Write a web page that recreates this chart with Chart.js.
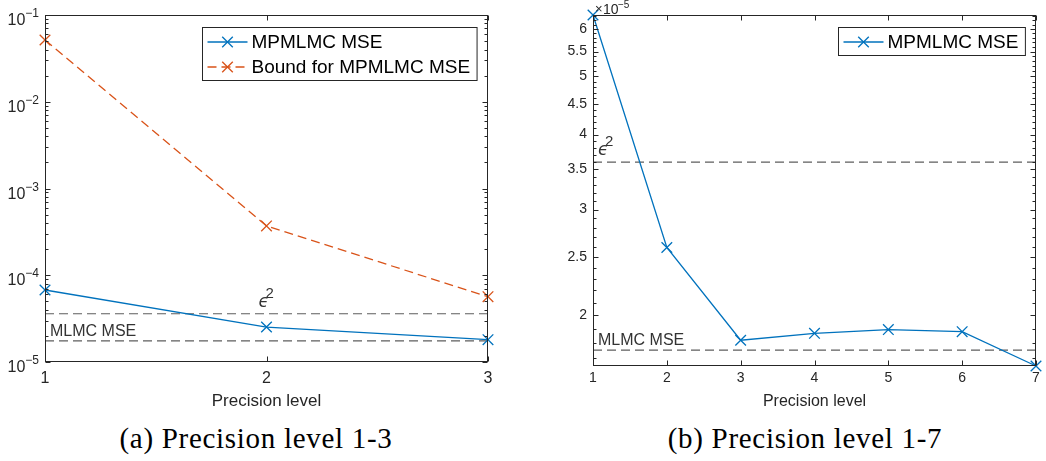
<!DOCTYPE html>
<html>
<head>
<meta charset="utf-8">
<script src="https://cdn.jsdelivr.net/npm/chart.js@4"></script>
<style>
  body { margin: 0; background: #fff; }
  #wrap { position: relative; width: 1046px; height: 461px; overflow: hidden; background: #fff; }
  canvas { position: absolute; top: 0; }
  .cap { position: absolute; top: 422px; line-height: 32px; font-family: "Liberation Serif", "Times New Roman", serif;
         font-size: 29px; letter-spacing: 0.7px; color: #000; white-space: nowrap; transform: translateX(-50%); }
</style>
</head>
<body>
<div id="wrap">
  <canvas id="chartA" width="520" height="416" style="left:0"></canvas>
  <canvas id="chartB" width="516" height="415" style="left:530px"></canvas>
  <div class="cap" style="left:256px">(a) Precision level 1-3</div>
  <div class="cap" style="left:805px">(b) Precision level 1-7</div>
</div>
<script>
// data
const levelsA = [1, 2, 3];
const mseA = [6.76e-5, 2.53e-5, 1.81e-5];
const boundA = [5.15e-2, 3.7e-4, 5.66e-5];
const levelsB = [1, 2, 3, 4, 5, 6, 7];
const mseB = [6.33e-5, 2.594e-5, 1.817e-5, 1.866e-5, 1.893e-5, 1.878e-5, 1.646e-5];
const eps2 = 3.6e-5;
const mlmcMse = 1.75e-5;
const decadesA = [1e-5, 1e-4, 1e-3, 1e-2, 1e-1];
const ticksB = [2, 2.5, 3, 3.5, 4, 4.5, 5, 5.5, 6]; // times 1e-5

const BLUE = '#0072BD';
const ORANGE = '#D95319';
const AXIS = '#262626';
const REF = '#5e5e5e';
const SANS = '"Liberation Sans", Arial, sans-serif';
Chart.defaults.font.family = SANS;
Chart.defaults.color = AXIS;

const pts = (xs, ys) => xs.map((x, i) => ({ x: x, y: ys[i] }));
const flat = (xs, v) => [{ x: xs[0], y: v }, { x: xs[xs.length - 1], y: v }];

const series = (label, xs, ys, color, dash) => ({
  label: label, data: pts(xs, ys), borderColor: color, backgroundColor: color,
  borderWidth: 1.3, borderDash: dash || [], pointStyle: 'crossRot',
  pointRadius: 7.5, pointBorderWidth: 1.3, clip: false
});
const refLine = (xs, v) => ({
  data: flat(xs, v), borderColor: REF, borderWidth: 1.2, borderDash: [9, 5], pointRadius: 0, clip: false
});

// minor tick positions
const minorA = [];
decadesA.slice(0, -1).forEach(d => { for (let m = 2; m < 10; m++) minorA.push(m * d); });
const minorB = [];
for (let k = 17; k <= 63; k++) if (k % 5 !== 0) minorB.push(k / 10 * 1e-5);

function line(ctx, x1, y1, x2, y2) {
  ctx.beginPath(); ctx.moveTo(x1, y1); ctx.lineTo(x2, y2); ctx.stroke();
}

function drawCross(ctx, cx, cy, r) {
  const h = r * Math.SQRT1_2;
  line(ctx, cx - h, cy - h, cx + h, cy + h);
  line(ctx, cx - h, cy + h, cx + h, cy - h);
}

const decoPlugin = (cfg) => ({
  id: 'deco',
  afterDraw(chart) {
    const { ctx, chartArea: a } = chart;
    const x = chart.scales.x, y = chart.scales.y;
    const L = Math.round(a.left) + 0.5, R = Math.round(a.right) - 0.5;
    const T = Math.round(a.top) + 0.5, B = Math.round(a.bottom) - 0.5;
    ctx.save();
    ctx.strokeStyle = AXIS;
    ctx.lineWidth = 1;
    ctx.setLineDash([]);
    ctx.strokeRect(L, T, R - L, B - T);

    cfg.xTicks.forEach(v => {
      const px = Math.round(x.getPixelForValue(v)) + 0.5;
      line(ctx, px, B, px, B - 5);
      line(ctx, px, T, px, T + 5);
    });
    cfg.yMajor.forEach(v => {
      const py = Math.round(y.getPixelForValue(v)) + 0.5;
      line(ctx, L, py, L + 5, py);
      line(ctx, R, py, R - 5, py);
    });
    cfg.yMinor.forEach(v => {
      const py = Math.round(y.getPixelForValue(v)) + 0.5;
      line(ctx, L, py, L + 3, py);
      line(ctx, R, py, R - 3, py);
    });

    // power-of-ten labels
    ctx.fillStyle = AXIS;
    ctx.textBaseline = 'alphabetic';
    if (cfg.powerLabels) {
      cfg.yMajor.forEach(v => {
        const py = y.getPixelForValue(v);
        const e = Math.round(Math.log10(v));
        ctx.font = '12px ' + SANS;
        ctx.textAlign = 'right';
        const exp = '\u2212' + Math.abs(e);
        ctx.fillText(exp, a.left - 6, py + 2);
        const w = ctx.measureText(exp).width;
        ctx.font = '16px ' + SANS;
        ctx.fillText('10', a.left - 6 - w, py + 10);
      });
    }
    if (cfg.multiplier) {
      ctx.textAlign = 'left';
      ctx.font = '13px ' + SANS;
      ctx.fillText('\u00d7', a.left + 2, 13);
      ctx.font = '14px ' + SANS;
      ctx.fillText('10', a.left + 10, 14);
      ctx.font = '10px ' + SANS;
      ctx.fillText('\u2212' + cfg.multiplier, a.left + 25, 8);
    }

    // reference line labels
    ctx.fillStyle = '#333333';
    ctx.font = '16px ' + SANS;
    ctx.textAlign = 'left';
    ctx.fillText('MLMC MSE', a.left + 5, y.getPixelForValue(mlmcMse) - 5);
    const ey = y.getPixelForValue(eps2) - 7;
    const ex = cfg.epsAtX != null ? x.getPixelForValue(cfg.epsAtX) - 8 : a.left + 5;
    ctx.font = 'italic 17px "DejaVu Sans", sans-serif';
    ctx.fillText('\u03f5', ex, ey);
    ctx.font = '15px ' + SANS;
    ctx.fillText('2', ex + 7, ey - 9);

    // legend
    ctx.font = '19px ' + SANS;
    const tw = Math.max(...cfg.legend.map(e => ctx.measureText(e.label).width));
    const bw = 49 + tw + 7, bh = 3 + 25 * cfg.legend.length;
    const bx = Math.round(a.right - 11 - bw) + 0.5, by = Math.round(a.top + 12) + 0.5;
    ctx.fillStyle = '#fff';
    ctx.fillRect(bx, by, bw, bh);
    ctx.strokeStyle = AXIS;
    ctx.strokeRect(bx, by, bw, bh);
    cfg.legend.forEach((e, i) => {
      const cy = by + 14.5 + 25 * i;
      ctx.strokeStyle = e.color;
      ctx.lineWidth = 1.3;
      ctx.setLineDash(e.dash || []);
      line(ctx, bx + 5, cy, bx + 45, cy);
      ctx.setLineDash([]);
      drawCross(ctx, bx + 25, cy, 7.5);
      ctx.fillStyle = '#000';
      ctx.textAlign = 'left';
      ctx.textBaseline = 'middle';
      ctx.fillText(e.label, bx + 49, cy + 1);
    });
    ctx.restore();
  }
});

function xScale(xs, tickSize, titleSize, axisHeight, pad) {
  return {
    type: 'linear', min: xs[0], max: xs[xs.length - 1],
    grid: { display: false, drawTicks: false }, border: { display: false },
    ticks: { stepSize: 1, autoSkip: false, maxRotation: 0, padding: pad, color: AXIS, font: { size: tickSize } },
    title: { display: true, text: 'Precision level', color: AXIS, font: { size: titleSize }, padding: { top: 0, bottom: 4 } },
    afterFit: (s) => { s.height = axisHeight; }
  };
}

new Chart(document.getElementById('chartA'), {
  type: 'line',
  data: {
    datasets: [
      series('MPMLMC MSE', levelsA, mseA, BLUE),
      series('Bound for MPMLMC MSE', levelsA, boundA, ORANGE, [9, 5]),
      refLine(levelsA, eps2),
      refLine(levelsA, mlmcMse)
    ]
  },
  options: {
    responsive: false, animation: false,
    layout: { padding: { left: 0, top: 15, right: 32, bottom: 0 } },
    plugins: { legend: { display: false }, tooltip: { enabled: false } },
    scales: {
      x: xScale(levelsA, 16, 17, 54, 7),
      y: {
        type: 'logarithmic', min: decadesA[0], max: decadesA[decadesA.length - 1],
        grid: { display: false, drawTicks: false }, border: { display: false },
        ticks: { display: false },
        afterBuildTicks: (s) => { s.ticks = decadesA.map(v => ({ value: v })); },
        afterFit: (s) => { s.width = 45; }
      }
    }
  },
  plugins: [decoPlugin({
    xTicks: levelsA, yMajor: decadesA, yMinor: minorA, powerLabels: true, epsAtX: 2,
    legend: [
      { label: 'MPMLMC MSE', color: BLUE },
      { label: 'Bound for MPMLMC MSE', color: ORANGE, dash: [9, 5] }
    ]
  })]
});

new Chart(document.getElementById('chartB'), {
  type: 'line',
  data: {
    datasets: [
      series('MPMLMC MSE', levelsB, mseB, BLUE),
      refLine(levelsB, eps2),
      refLine(levelsB, mlmcMse)
    ]
  },
  options: {
    responsive: false, animation: false,
    layout: { padding: { left: 0, top: 15, right: 10, bottom: 0 } },
    plugins: { legend: { display: false }, tooltip: { enabled: false } },
    scales: {
      x: xScale(levelsB, 14, 16, 49, 4),
      y: {
        type: 'logarithmic', min: Math.min(...mseB), max: Math.max(...mseB),
        grid: { display: false, drawTicks: false }, border: { display: false },
        ticks: { padding: 6, color: AXIS, font: { size: 14 }, callback: (v) => String(+(v * 1e5).toFixed(1)) },
        afterBuildTicks: (s) => { s.ticks = ticksB.map(v => ({ value: v * 1e-5 })); },
        afterFit: (s) => { s.width = 63; }
      }
    }
  },
  plugins: [decoPlugin({
    xTicks: levelsB, yMajor: ticksB.map(v => v * 1e-5), yMinor: minorB, multiplier: 5,
    legend: [{ label: 'MPMLMC MSE', color: BLUE }]
  })]
});
</script>
</body>
</html>
